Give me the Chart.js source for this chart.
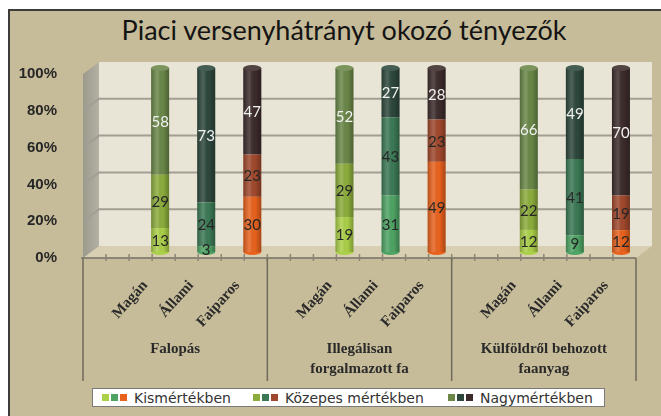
<!DOCTYPE html>
<html>
<head>
<meta charset="utf-8">
<script src="https://cdn.jsdelivr.net/npm/chart.js@4.4.1/dist/chart.umd.min.js"></script>
<style>
  html, body { margin: 0; padding: 0; background: #fff; }
  #wrap { position: relative; width: 661px; height: 416px; overflow: hidden; }
  #box { position: absolute; left: 8px; top: 9px; right: 0; bottom: 0;
         background: #c7bc99; border-left: 2px solid #3c3c3c; border-top: 2px solid #3c3c3c; }
  #chart { position: absolute; left: 0; top: 0; }
  #title { position: absolute; left: 0; width: 688px; top: 13px; text-align: center;
           font: 27px Lato, sans-serif; color: #141414; }
  #legend { position: absolute; left: 92px; top: 388px; width: 511px; height: 17px;
            background: #fff; border: 1px solid #7a7a7a;
            font: 14px "DejaVu Sans", sans-serif; color: #333; }
  #legend span.it { position: absolute; top: 0; height: 17px; display: flex; align-items: center; white-space: nowrap; }
  #legend i { display: inline-block; width: 7px; height: 7px; margin-right: 2px; }
  #legend b { font-weight: normal; margin-left: 5px; }
</style>
</head>
<body>
<div id="wrap">
  <div id="box"></div>
  <div id="title">Piaci versenyhátrányt okozó tényezők</div>
  <canvas id="chart" width="661" height="416"></canvas>
  <div id="legend"></div>
</div>
<script>
// ======================
// ADATOK
// ======================
const csoportok = ['Falopás', ['Illegálisan', 'forgalmazott fa'], ['Külföldről behozott', 'faanyag']];
const tulajdonos = ['Magán', 'Állami', 'Faiparos'];
const sorozatok = ['Kismértékben', 'Közepes mértékben', 'Nagymértékben'];
// sorrend: Falopás (M, Á, F), Illegális (M, Á, F), Külföldről (M, Á, F)
const kis     = [13, 3, 30, 19, 31, 49, 12, 9, 12];
const kozepes = [29, 24, 23, 29, 43, 23, 22, 41, 19];
const nagy    = [58, 73, 47, 52, 27, 28, 66, 49, 70];
const yTicks  = [0, 20, 40, 60, 80, 100];

// szinek tulajdonosonkent [kis, kozepes, nagy]
const szinek = {
    'Magán':    ['#abd048', '#8cad3c', '#6a8748'],
    'Állami':   ['#4ea464', '#3b7955', '#2d473c'],
    'Faiparos': ['#e8621d', '#a0482c', '#3c2b2b']
};

// 12 hely: minden csoport elott egy ures
const cimkek = [];
const helyek = [];
csoportok.forEach((g, gi) => {
    cimkek.push('');
    helyek.push(null);
    tulajdonos.forEach((t, ti) => {
        cimkek.push(t);
        helyek.push(gi * 3 + ti);
    });
});

function szazalek(arr) {
    return helyek.map(k => {
        if (k === null) return null;
        const ossz = kis[k] + kozepes[k] + nagy[k];
        return arr[k] / ossz * 100;
    });
}
function nyers(arr) {
    return helyek.map(k => k === null ? null : arr[k]);
}
function szin(si) {
    return cimkek.map(t => t ? szinek[t][si] : 'transparent');
}

const DX = 8, DY = -6;      // oszlopok a melyseg kozepen
const WX = 16, WY = -12;    // hatso fal eltolasa

const raw = [nyers(kis), nyers(kozepes), nyers(nagy)];

// legend
const leg = document.getElementById('legend');
const legX = [9, 160, 355];
sorozatok.forEach((s, si) => {
    const it = document.createElement('span');
    it.className = 'it';
    it.style.left = legX[si] + 'px';
    tulajdonos.forEach(t => {
        const sq = document.createElement('i');
        sq.style.background = szinek[t][si];
        it.appendChild(sq);
    });
    const tx = document.createElement('b');
    tx.textContent = s;
    it.appendChild(tx);
    leg.appendChild(it);
});

const haromD = {
    id: 'haromD',
    beforeDraw(chart) {
        const { ctx, chartArea: a, scales: { y } } = chart;
        ctx.save();
        // padlo
        ctx.fillStyle = '#d8cfb3';
        ctx.beginPath();
        ctx.moveTo(a.left, a.bottom);
        ctx.lineTo(a.left + WX, a.bottom + WY);
        ctx.lineTo(a.right + WX, a.bottom + WY);
        ctx.lineTo(a.right, a.bottom);
        ctx.closePath();
        ctx.fill();
        // hatso fal
        ctx.fillStyle = '#e8e4d6';
        ctx.fillRect(a.left + WX, a.top + WY, a.right - a.left, a.bottom - a.top);
        // oldalfal
        const g = ctx.createLinearGradient(a.left, 0, a.left + WX, 0);
        g.addColorStop(0, '#9c998d');
        g.addColorStop(1, '#b3b0a4');
        ctx.fillStyle = g;
        ctx.beginPath();
        ctx.moveTo(a.left, a.top);
        ctx.lineTo(a.left + WX, a.top + WY);
        ctx.lineTo(a.left + WX, a.bottom + WY);
        ctx.lineTo(a.left, a.bottom);
        ctx.closePath();
        ctx.fill();
        // racsvonalak
        ctx.strokeStyle = '#a29e94';
        ctx.lineWidth = 2;
        yTicks.forEach(t => {
            if (t === 0 || t === 100) return;
            const py = y.getPixelForValue(t);
            ctx.beginPath();
            ctx.moveTo(a.left, py);
            ctx.lineTo(a.left + WX, py + WY);
            ctx.lineTo(a.right + WX, py + WY);
            ctx.stroke();
        });
        ctx.restore();
    },
    beforeDatasetsDraw(chart) {
        chart.ctx.save();
        chart.ctx.translate(DX, DY);
    },
    afterDatasetsDraw(chart) {
        const ctx = chart.ctx;
        const m0 = chart.getDatasetMeta(0).data;
        const m2 = chart.getDatasetMeta(2).data;
        // henger arnyalas
        m0.forEach((el, i) => {
            if (helyek[i] === null) return;
            const w = el.width, x0 = el.x - w / 2;
            const top = m2[i].y, bot = el.base;
            const g = ctx.createLinearGradient(x0, 0, x0 + w, 0);
            g.addColorStop(0, 'rgba(0,0,0,0.22)');
            g.addColorStop(0.35, 'rgba(255,255,255,0.16)');
            g.addColorStop(0.65, 'rgba(0,0,0,0)');
            g.addColorStop(1, 'rgba(0,0,0,0.28)');
            ctx.fillStyle = g;
            ctx.fillRect(x0, top, w, bot - top);
            // also vege
            ctx.fillStyle = chart.data.datasets[0].backgroundColor[i];
            ctx.beginPath();
            ctx.ellipse(el.x, bot, w / 2, 3, 0, 0, Math.PI);
            ctx.fill();
            // teteje
            ctx.fillStyle = chart.data.datasets[2].backgroundColor[i];
            ctx.beginPath();
            ctx.ellipse(el.x, top, w / 2, 3, 0, 0, Math.PI * 2);
            ctx.fill();
            ctx.fillStyle = 'rgba(255,255,255,0.12)';
            ctx.fill();
        });
        // ertekek
        ctx.font = '15px Lato, sans-serif';
        ctx.textAlign = 'center';
        ctx.textBaseline = 'middle';
        chart.data.datasets.forEach((ds, di) => {
            chart.getDatasetMeta(di).data.forEach((el, i) => {
                if (helyek[i] === null) return;
                ctx.fillStyle = di === 2 ? '#f2f2f2' : '#262626';
                ctx.fillText(String(raw[di][i]), el.x, (el.y + el.base) / 2 + 1);
            });
        });
        ctx.restore();
    },
    afterDraw(chart) {
        const { ctx, chartArea: a, scales: { x } } = chart;
        ctx.save();
        // tengely
        ctx.strokeStyle = '#8a8575';
        ctx.lineWidth = 2;
        ctx.beginPath();
        ctx.moveTo(a.left - 2, a.bottom);
        ctx.lineTo(a.right, a.bottom);
        ctx.stroke();
        // kis jelek
        ctx.lineWidth = 1.5;
        const n = cimkek.length * 2;
        for (let i = 1; i < n; i++) {
            const px = a.left + i * (a.right - a.left) / n;
            ctx.beginPath();
            ctx.moveTo(px, a.bottom - 4);
            ctx.lineTo(px, a.bottom + 3);
            ctx.stroke();
        }
        // csoport hatarok
        ctx.strokeStyle = '#6f6a5c';
        const slot = (a.right - a.left) / cimkek.length;
        for (let g = 0; g <= csoportok.length; g++) {
            const px = g < csoportok.length ? x.getPixelForValue(g * 4) - slot / 2 : a.right;
            ctx.beginPath();
            ctx.moveTo(px, a.bottom);
            ctx.lineTo(px, 381);
            ctx.stroke();
        }
        // csoport nevek
        ctx.fillStyle = '#2a2a2a';
        ctx.font = 'bold 15px "Liberation Serif", serif';
        ctx.textAlign = 'center';
        ctx.textBaseline = 'middle';
        csoportok.forEach((g, gi) => {
            const cx = (x.getPixelForValue(gi * 4) + x.getPixelForValue(gi * 4 + 3)) / 2;
            const sorok = Array.isArray(g) ? g : [g];
            sorok.forEach((s, si) => ctx.fillText(s, cx, a.bottom + 91 + si * 20));
        });
        ctx.restore();
    }
};

new Chart(document.getElementById('chart'), {
    type: 'bar',
    data: {
        labels: cimkek,
        datasets: [
            { label: sorozatok[0], data: szazalek(kis), backgroundColor: szin(0) },
            { label: sorozatok[1], data: szazalek(kozepes), backgroundColor: szin(1) },
            { label: sorozatok[2], data: szazalek(nagy), backgroundColor: szin(2) }
        ]
    },
    options: {
        responsive: false,
        animation: false,
        layout: { padding: { top: 74, right: 25, left: 0, bottom: 0 } },
        datasets: { bar: { barPercentage: 0.39, categoryPercentage: 1, borderWidth: 0 } },
        plugins: { legend: { display: false }, tooltip: { enabled: false } },
        scales: {
            x: {
                stacked: true,
                grid: { display: false },
                border: { display: false },
                ticks: {
                    autoSkip: false,
                    minRotation: 48,
                    maxRotation: 48,
                    padding: 11,
                    labelOffset: -7,
                    color: '#2a2a2a',
                    font: { family: '"Liberation Serif", serif', size: 15, weight: 'bold' }
                },
                afterFit(s) { s.height = 158; }
            },
            y: {
                stacked: true,
                min: 0,
                max: 100,
                grid: { display: false },
                border: { display: false },
                ticks: {
                    stepSize: 20,
                    padding: 18,
                    color: '#262626',
                    font: { family: '"Liberation Sans", Arial, sans-serif', size: 15, weight: 'bold' },
                    callback: v => v + '%'
                },
                afterFit(s) { s.width = 83; }
            }
        }
    },
    plugins: [haromD]
});
</script>
</body>
</html>
